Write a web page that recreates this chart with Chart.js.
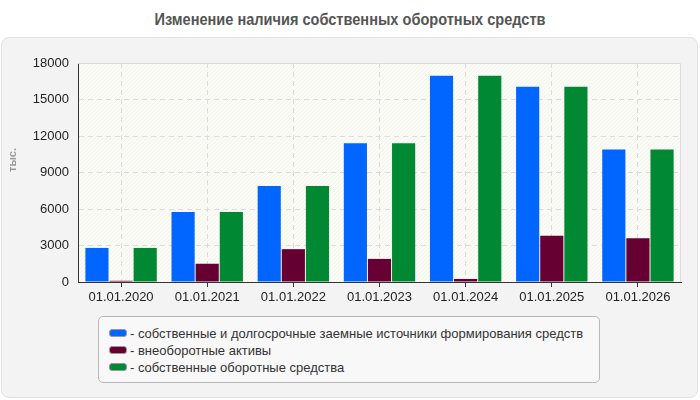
<!DOCTYPE html>
<html>
<head>
<meta charset="utf-8">
<script src="https://cdn.jsdelivr.net/npm/chart.js@4.4.1/dist/chart.umd.min.js"></script>
<style>
body { margin: 0; width: 700px; height: 400px; background: #fff; position: relative; overflow: hidden; font-family: "Liberation Sans", Arial, sans-serif; }
#title { position: absolute; left: 0; top: 11px; width: 700px; text-align: center; font: bold 16px "Liberation Sans", Arial, sans-serif; color: #555; transform: scaleX(0.91); }
#panel { position: absolute; left: 1px; top: 37px; width: 695px; height: 359px; background: #f3f3f3; border: 1px solid #e2e2e2; border-radius: 8px; }
#myChart { position: absolute; left: 0; top: 0; }
#ytitle { position: absolute; left: 12px; top: 160px; transform: translate(-50%, -50%) rotate(-90deg); font: bold 11px "Liberation Sans", Arial, sans-serif; color: #999; white-space: nowrap; }
#legend { position: absolute; left: 98px; top: 316px; width: 500px; height: 65px; background: #f8f8f8; border: 1px solid #b8b8b8; border-radius: 5px; }
#legend .row { position: absolute; left: 10px; height: 17px; line-height: 17px; font-size: 13px; color: #333; white-space: nowrap; }
#legend .sw { display: inline-block; width: 16px; height: 6px; border: 1px solid #999; border-radius: 3px; margin-right: 3px; vertical-align: 1px; }
</style>
</head>
<body>
<div id="title">Изменение наличия собственных оборотных средств</div>
<div id="panel"></div>
<canvas id="myChart" width="700" height="400"></canvas>
<div id="ytitle">тыс.</div>
<div id="legend"></div>
<script>
const dates = ['01.01.2020', '01.01.2021', '01.01.2022', '01.01.2023', '01.01.2024', '01.01.2025', '01.01.2026'];
const ownAndLongTerm = [2800, 5750, 7900, 11400, 16950, 16050, 10900];
const nonCurrentAssets = [100, 1500, 2700, 1900, 250, 3800, 3600];
const ownWorkingCapital = [2800, 5750, 7900, 11400, 16950, 16050, 10900];
const seriesNames = [
    'собственные и долгосрочные заемные источники формирования средств',
    'внеоборотные активы',
    'собственные оборотные средства'
];
const seriesColors = ['#0066ff', '#660033', '#008833'];
const yTicks = [0, 3000, 6000, 9000, 12000, 15000, 18000];

Chart.defaults.font.family = '"Liberation Sans", Arial, sans-serif';
Chart.defaults.font.size = 13;
Chart.defaults.color = '#222';

// hatched background + light top/right border of the plot
const plotBack = {
    id: 'plotBack',
    beforeDraw(chart) {
        const {ctx, chartArea: a} = chart;
        ctx.save();
        ctx.fillStyle = '#fcfcf6';
        ctx.fillRect(a.left, a.top, a.right - a.left, a.bottom - a.top);
        ctx.beginPath();
        ctx.rect(a.left, a.top, a.right - a.left, a.bottom - a.top);
        ctx.clip();
        ctx.strokeStyle = 'rgba(0,0,0,0.035)';
        ctx.lineWidth = 1;
        const h = a.bottom - a.top;
        for (let k = -h; k < a.right - a.left; k += 4) {
            ctx.beginPath();
            ctx.moveTo(a.left + k, a.bottom);
            ctx.lineTo(a.left + k + h, a.top);
            ctx.stroke();
        }
        ctx.restore();
    },
    beforeDatasetsDraw(chart) {
        const {ctx, chartArea: a} = chart;
        ctx.save();
        ctx.strokeStyle = '#dcdcdc';
        ctx.lineWidth = 1;
        ctx.beginPath();
        ctx.moveTo(a.left, a.top + 0.5);
        ctx.lineTo(a.right - 0.5, a.top + 0.5);
        ctx.lineTo(a.right - 0.5, a.bottom);
        ctx.stroke();
        ctx.restore();
    }
};

const ctx = document.getElementById('myChart').getContext('2d');
const myChart = new Chart(ctx, {
    type: 'bar',
    data: {
        labels: dates,
        datasets: [ownAndLongTerm, nonCurrentAssets, ownWorkingCapital].map((d, i) => ({
            label: seriesNames[i],
            data: d,
            backgroundColor: seriesColors[i],
            borderWidth: 0,
            categoryPercentage: 0.84,
            barPercentage: 0.96
        }))
    },
    options: {
        responsive: false,
        animation: false,
        devicePixelRatio: 1,
        layout: { padding: { top: 63, right: 19, left: 0, bottom: 0 } },
        plugins: { legend: { display: false }, tooltip: { enabled: false } },
        scales: {
            x: {
                afterFit(scale) { scale.height = 118; },
                grid: { offset: false, color: '#dddddd', tickColor: '#333', tickLength: 5 },
                border: { color: '#333', width: 1, dash: [5, 4] },
                ticks: { padding: 3, maxRotation: 0 }
            },
            y: {
                min: 0,
                max: 18000,
                afterFit(scale) { scale.width = 78; },
                afterBuildTicks(scale) { scale.ticks = yTicks.map(v => ({ value: v })); },
                grid: { color: '#dddddd', drawTicks: false },
                border: { color: '#333', width: 1, dash: [5, 4] },
                ticks: { padding: 9, callback: v => String(v) }
            }
        }
    },
    plugins: [plotBack]
});

const legend = document.getElementById('legend');
myChart.data.datasets.forEach((ds, i) => {
    const row = document.createElement('div');
    row.className = 'row';
    row.style.top = (8 + i * 17) + 'px';
    const sw = document.createElement('span');
    sw.className = 'sw';
    sw.style.background = ds.backgroundColor;
    row.appendChild(sw);
    row.appendChild(document.createTextNode('- ' + ds.label));
    legend.appendChild(row);
});
</script>
</body>
</html>
